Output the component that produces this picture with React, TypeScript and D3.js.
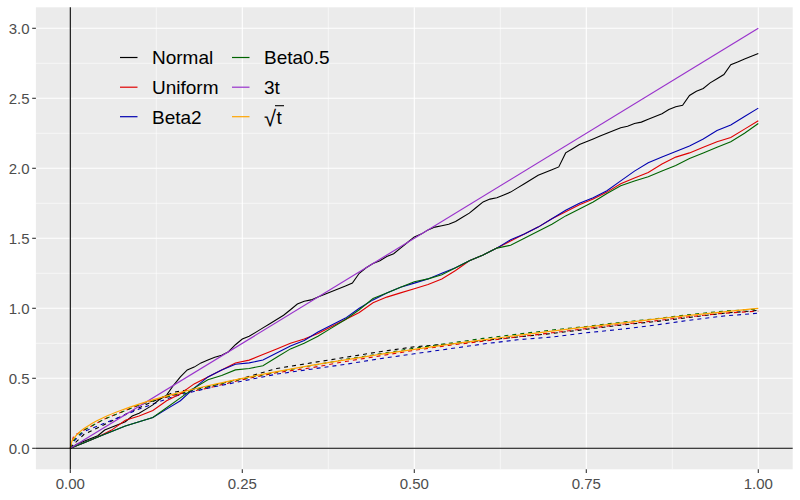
import React from "react";
import * as d3 from "d3";

// ---- data ----
const seriesNames = ["Normal", "Uniform", "Beta2", "Beta0.5", "3t", "sqrt"];
const seriesColors = ["#000000", "#e00000", "#0000b0", "#006400", "#9932cc", "#ffa500"];

const tFine = d3.range(0, 101).map((i) => i / 100);
const tMid = d3.range(0, 51).map((i) => i / 50);
const tDash = [0, 0.005, 0.02, 0.05, 0.1, 0.15, 0.2, 0.25, 0.3, 0.35, 0.4, 0.45, 0.5, 0.55, 0.6, 0.65, 0.7, 0.75, 0.8, 0.85, 0.9, 0.95, 1.0];
const tSqrt = [0, 0.002, 0.005, 0.01, 0.02, 0.03, 0.05, 0.075, 0.1, 0.15, 0.2, 0.25, 0.3, 0.35, 0.4, 0.45, 0.5, 0.55, 0.6, 0.65, 0.7, 0.75, 0.8, 0.85, 0.9, 0.95, 1.0];
const tLine = [0, 1];

const normalVals = [
  0, 0.03, 0.05, 0.07, 0.09, 0.13, 0.15, 0.17, 0.19, 0.23,
  0.25, 0.28, 0.31, 0.35, 0.38, 0.45, 0.51, 0.56, 0.58, 0.61,
  0.63, 0.65, 0.665, 0.69, 0.74, 0.78, 0.80, 0.83, 0.86, 0.89,
  0.92, 0.95, 0.99, 1.03, 1.05, 1.06, 1.08, 1.10, 1.12, 1.14,
  1.16, 1.18, 1.25, 1.29, 1.32, 1.34, 1.37, 1.39, 1.43, 1.47,
  1.51, 1.53, 1.56, 1.58, 1.59, 1.60, 1.62, 1.65, 1.68, 1.72,
  1.76, 1.78, 1.79, 1.81, 1.83, 1.86, 1.89, 1.92, 1.95, 1.97,
  1.99, 2.01, 2.11, 2.14, 2.17, 2.19, 2.21, 2.23, 2.25, 2.27,
  2.29, 2.30, 2.32, 2.33, 2.35, 2.37, 2.39, 2.42, 2.44, 2.45,
  2.52, 2.55, 2.57, 2.61, 2.64, 2.67, 2.74, 2.76, 2.78, 2.80,
  2.82,
];

const uniformVals = [
  0, 0.04, 0.08, 0.13, 0.20, 0.23, 0.27, 0.34, 0.39, 0.46,
  0.51, 0.56, 0.61, 0.63, 0.67, 0.71, 0.75, 0.78, 0.82, 0.87,
  0.92, 0.97, 1.04, 1.08, 1.11, 1.14, 1.17, 1.21, 1.27, 1.34,
  1.38, 1.43, 1.48, 1.53, 1.58, 1.64, 1.69, 1.74, 1.78, 1.83,
  1.89, 1.93, 1.97, 2.03, 2.08, 2.11, 2.15, 2.19, 2.22, 2.28,
  2.34,
];

const beta2Vals = [
  0, 0.04, 0.08, 0.12, 0.16, 0.19, 0.22, 0.28, 0.34, 0.43,
  0.51, 0.56, 0.60, 0.61, 0.63, 0.68, 0.73, 0.77, 0.83, 0.88,
  0.93, 1.00, 1.06, 1.11, 1.15, 1.18, 1.21, 1.25, 1.29, 1.34,
  1.38, 1.43, 1.49, 1.53, 1.58, 1.64, 1.70, 1.75, 1.79, 1.84,
  1.91, 1.98, 2.04, 2.08, 2.12, 2.16, 2.21, 2.27, 2.31, 2.37,
  2.43,
];

const beta05Vals = [
  0, 0.04, 0.08, 0.12, 0.16, 0.19, 0.22, 0.29, 0.36, 0.43,
  0.49, 0.52, 0.56, 0.57, 0.59, 0.65, 0.71, 0.75, 0.80, 0.86,
  0.92, 0.99, 1.07, 1.11, 1.15, 1.19, 1.21, 1.24, 1.29, 1.34,
  1.38, 1.43, 1.45, 1.50, 1.55, 1.60, 1.66, 1.71, 1.76, 1.82,
  1.875, 1.91, 1.94, 1.98, 2.02, 2.07, 2.11, 2.15, 2.19, 2.25,
  2.32,
];

const normalDash = [0, 0.03, 0.10, 0.17, 0.29, 0.40, 0.44, 0.50, 0.57, 0.61, 0.65, 0.69, 0.725, 0.745, 0.77, 0.795, 0.82, 0.85, 0.88, 0.905, 0.935, 0.965, 0.985];
const uniformDash = [0, 0.09, 0.13, 0.21, 0.31, 0.38, 0.43, 0.49, 0.54, 0.575, 0.62, 0.66, 0.70, 0.735, 0.765, 0.795, 0.825, 0.855, 0.885, 0.91, 0.94, 0.965, 0.98];
const beta2Dash = [0, 0.05, 0.12, 0.18, 0.28, 0.37, 0.43, 0.48, 0.53, 0.565, 0.60, 0.64, 0.675, 0.71, 0.745, 0.775, 0.795, 0.825, 0.85, 0.88, 0.915, 0.945, 0.965];
const beta05Dash = [0, 0.06, 0.13, 0.21, 0.31, 0.38, 0.44, 0.495, 0.545, 0.59, 0.635, 0.675, 0.715, 0.75, 0.785, 0.815, 0.845, 0.87, 0.90, 0.925, 0.955, 0.98, 0.995];

const threeTVals = [0, 3];
const sqrtVals = [0, 0.045, 0.07, 0.1, 0.141, 0.173, 0.224, 0.274, 0.316, 0.387, 0.447, 0.5, 0.548, 0.592, 0.632, 0.671, 0.707, 0.742, 0.775, 0.806, 0.837, 0.866, 0.894, 0.922, 0.949, 0.975, 1.0];

const xTicks = [0, 0.25, 0.5, 0.75, 1.0];
const xMinor = [0.125, 0.375, 0.625, 0.875];
const yTicks = [0, 0.5, 1.0, 1.5, 2.0, 2.5, 3.0];
const yMinor = [0.25, 0.75, 1.25, 1.75, 2.25, 2.75];

// ---- layout ----
const W = 800;
const H = 500;
const P = { left: 35.9, right: 792.7, top: 7.3, bottom: 469.3 };

export default function App() {
  const x = d3.scaleLinear().domain([-0.05, 1.05]).range([P.left, P.right]);
  const y = d3.scaleLinear().domain([-0.15, 3.15]).range([P.bottom, P.top]);

  const mk = (ts: number[], vs: number[], curve: any) =>
    d3
      .line<number>()
      .x((_, i) => x(ts[i]))
      .y((v) => y(v))
      .curve(curve)(vs) as string;

  const dashed = [
    { vals: normalDash, c: seriesColors[0] },
    { vals: uniformDash, c: seriesColors[1] },
    { vals: beta2Dash, c: seriesColors[2] },
    { vals: beta05Dash, c: seriesColors[3] },
  ];
  const solid = [
    { ts: tFine, vals: normalVals, c: seriesColors[0] },
    { ts: tMid, vals: uniformVals, c: seriesColors[1] },
    { ts: tMid, vals: beta2Vals, c: seriesColors[2] },
    { ts: tMid, vals: beta05Vals, c: seriesColors[3] },
  ];

  const font = "'Liberation Sans', Arial, sans-serif";
  const legendCols = [120, 232];
  const legendRows = [57.5, 87.2, 116.7];

  return (
    <svg
      width={W}
      height={H}
      style={{ position: "absolute", left: 0, top: 0, background: "#fff" }}
      fontFamily={font}
    >
      <rect x={0} y={0} width={W} height={H} fill="#fff" />
      <rect x={P.left} y={P.top} width={P.right - P.left} height={P.bottom - P.top} fill="#ebebeb" />
      {yMinor.map((v) => (
        <line key={"ym" + v} x1={P.left} x2={P.right} y1={y(v)} y2={y(v)} stroke="#fff" strokeWidth={0.55} />
      ))}
      {xMinor.map((v) => (
        <line key={"xm" + v} y1={P.top} y2={P.bottom} x1={x(v)} x2={x(v)} stroke="#fff" strokeWidth={0.55} />
      ))}
      {yTicks.map((v) => (
        <line key={"yM" + v} x1={P.left} x2={P.right} y1={y(v)} y2={y(v)} stroke="#fff" strokeWidth={1.1} />
      ))}
      {xTicks.map((v) => (
        <line key={"xM" + v} y1={P.top} y2={P.bottom} x1={x(v)} x2={x(v)} stroke="#fff" strokeWidth={1.1} />
      ))}

      {dashed.map((d, i) => (
        <path key={"d" + i} d={mk(tDash, d.vals, d3.curveLinear)} fill="none" stroke={d.c} strokeWidth={1.1} strokeDasharray="4,4" />
      ))}
      {solid.map((d, i) => (
        <path key={"s" + i} d={mk(d.ts, d.vals, d3.curveLinear)} fill="none" stroke={d.c} strokeWidth={1.1} />
      ))}
      <path d={mk(tLine, threeTVals, d3.curveLinear)} fill="none" stroke={seriesColors[4]} strokeWidth={1.2} />
      <path d={mk(tSqrt, sqrtVals, d3.curveMonotoneX)} fill="none" stroke={seriesColors[5]} strokeWidth={1.2} />

      <line x1={x(0)} x2={x(0)} y1={P.top} y2={P.bottom} stroke="#000" strokeWidth={1.1} />
      <line x1={P.left} x2={P.right} y1={y(0)} y2={y(0)} stroke="#000" strokeWidth={1.1} />

      {/* axes */}
      {xTicks.map((v) => (
        <g key={"xt" + v}>
          <line x1={x(v)} x2={x(v)} y1={P.bottom} y2={P.bottom + 3.7} stroke="#333" strokeWidth={1.1} />
          <text x={x(v)} y={489} textAnchor="middle" fontSize={15} fill="#4d4d4d">
            {d3.format(".2f")(v)}
          </text>
        </g>
      ))}
      {yTicks.map((v) => (
        <g key={"yt" + v}>
          <line x1={P.left - 3.7} x2={P.left} y1={y(v)} y2={y(v)} stroke="#333" strokeWidth={1.1} />
          <text x={29.5} y={y(v)} dy="0.36em" textAnchor="end" fontSize={15} fill="#4d4d4d">
            {d3.format(".1f")(v)}
          </text>
        </g>
      ))}

      {/* legend */}
      {seriesNames.map((name, i) => {
        const col = Math.floor(i / 3);
        const row = i % 3;
        const kx = legendCols[col];
        const ky = legendRows[row];
        return (
          <g key={"lg" + name}>
            <line x1={kx} x2={kx + 17.5} y1={ky} y2={ky} stroke={seriesColors[i]} strokeWidth={1.2} />
            {name === "sqrt" ? (
              <g>
                <text x={kx + 32} y={ky + 1} dy="0.36em" fontSize={22} fill="#000">
                  √
                </text>
                <text x={kx + 44.5} y={ky + 0.5} dy="0.36em" fontSize={19} fill="#000">
                  t
                </text>
                <line x1={kx + 43} x2={kx + 52} y1={ky - 11} y2={ky - 11} stroke="#000" strokeWidth={1.1} />
              </g>
            ) : (
              <text x={kx + 32} y={ky} dy="0.36em" fontSize={19} fill="#000">
                {name}
              </text>
            )}
          </g>
        );
      })}
    </svg>
  );
}
